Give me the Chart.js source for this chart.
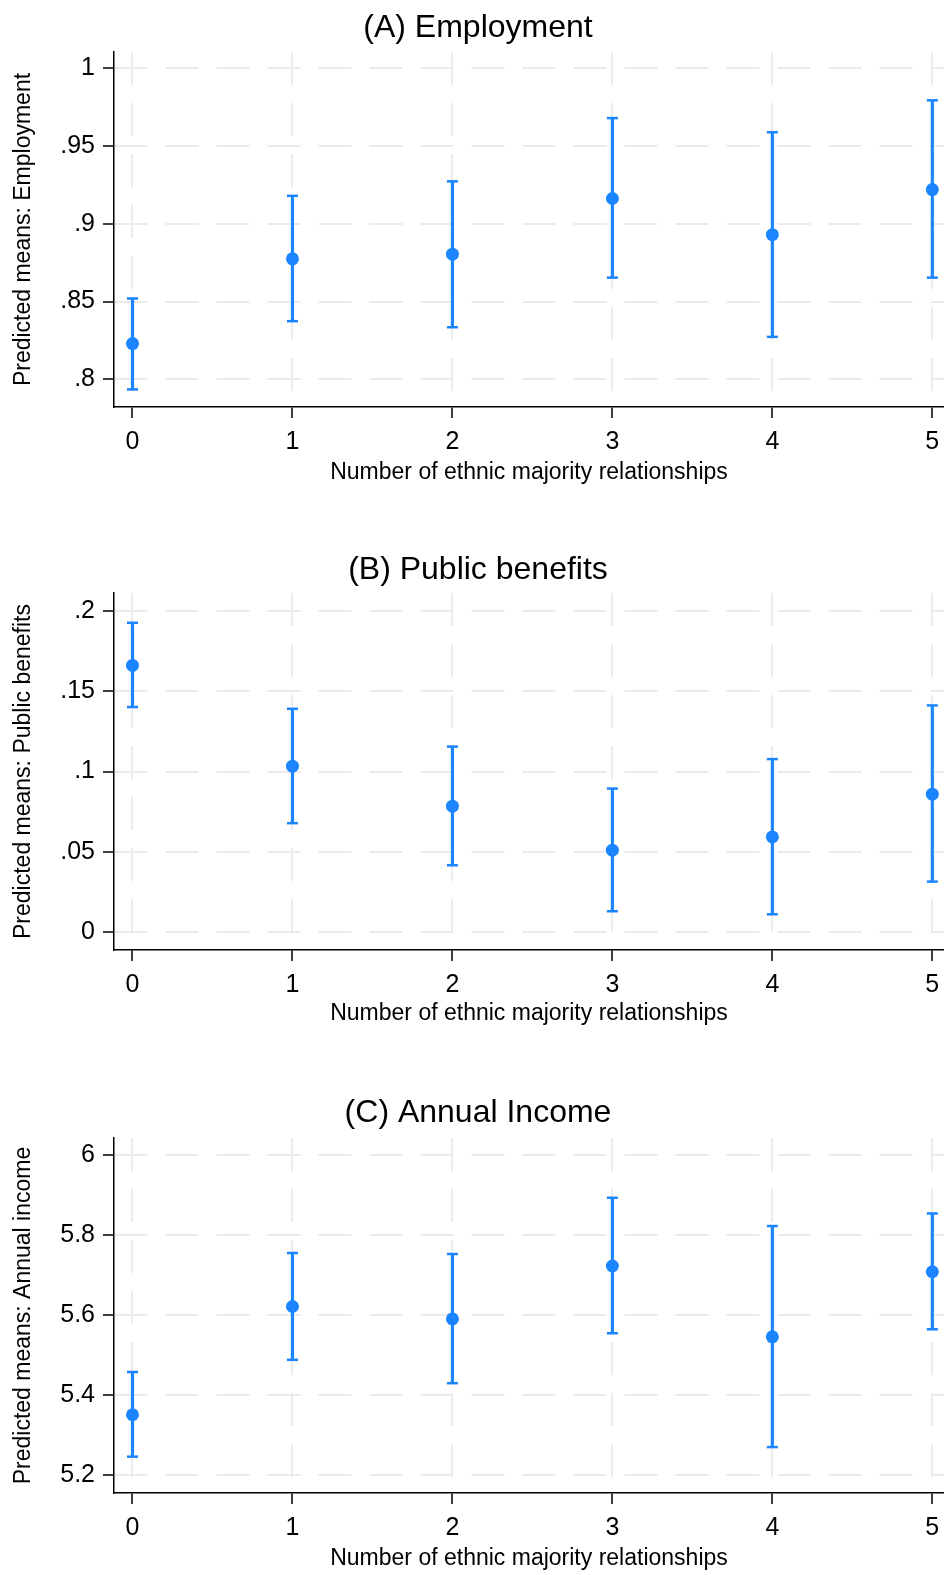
<!DOCTYPE html>
<html><head><meta charset="utf-8">
<script src="https://cdn.jsdelivr.net/npm/chart.js@4/dist/chart.umd.min.js"></script>
<style>
html,body{margin:0;padding:0;background:#fff;overflow:hidden;width:944px;height:1575px;}
.p{position:absolute;left:0;width:944px;height:500px;}
</style></head><body>
<div class="p" style="top:0px"><canvas id="cA" width="944" height="500"></canvas></div>
<div class="p" style="top:541px"><canvas id="cB" width="944" height="500"></canvas></div>
<div class="p" style="top:1086px"><canvas id="cC" width="944" height="500"></canvas></div>
<script>
// ---- data ----
const relationships = [0, 1, 2, 3, 4, 5];
const xTickLabels = ['0', '1', '2', '3', '4', '5'];

const employmentMean = [0.823, 0.8775, 0.8805, 0.9163, 0.893, 0.922];
const employmentLow  = [0.7935, 0.8374, 0.8335, 0.8654, 0.8273, 0.8654];
const employmentHigh = [0.852, 0.918, 0.9273, 0.968, 0.9589, 0.9794];
const employmentTicks = [0.8, 0.85, 0.9, 0.95, 1];
const employmentTickLabels = ['.8', '.85', '.9', '.95', '1'];

const benefitsMean = [0.1663, 0.1034, 0.0784, 0.0509, 0.0592, 0.0859];
const benefitsLow  = [0.1403, 0.0678, 0.0415, 0.0128, 0.0109, 0.0313];
const benefitsHigh = [0.1929, 0.1392, 0.1156, 0.0894, 0.1078, 0.1413];
const benefitsTicks = [0, 0.05, 0.1, 0.15, 0.2];
const benefitsTickLabels = ['0', '.05', '.1', '.15', '.2'];

const incomeMean = [5.35, 5.621, 5.59, 5.7225, 5.545, 5.708];
const incomeLow  = [5.245, 5.4875, 5.429, 5.554, 5.269, 5.564];
const incomeHigh = [5.457, 5.755, 5.7525, 5.8933, 5.8225, 5.854];
const incomeTicks = [5.2, 5.4, 5.6, 5.8, 6];
const incomeTickLabels = ['5.2', '5.4', '5.6', '5.8', '6'];

const titles = ['(A) Employment', '(B) Public benefits', '(C) Annual Income'];
const yTitles = ['Predicted means: Employment', 'Predicted means: Public benefits', 'Predicted means: Annual income'];
const xTitle = 'Number of ethnic majority relationships';

// ---- rendering ----
const BLUE = '#1a85ff';
const GRID = '#ebebeb';
Chart.defaults.font.family = "'Liberation Sans', Arial, sans-serif";
Chart.defaults.color = '#000';

function makeChart(id, mean, low, high, yTicks, yLabels, yMin, yMax, title, yTitle, titlePadTop, xAxisHeight) {
  const pts = relationships.map((x, i) => ({x: x, y: mean[i]}));
  const caps = relationships.map((x, i) => ({x: x, y: low[i]}))
    .concat(relationships.map((x, i) => ({x: x, y: high[i]})));
  const bars = relationships.map((x, i) => ({x: x, y: [low[i], high[i]]}));
  return new Chart(document.getElementById(id), {
    type: 'scatter',
    data: {
      datasets: [
        {type: 'scatter', data: pts, pointRadius: 6.5, pointHoverRadius: 6.5,
          pointBackgroundColor: BLUE, pointBorderWidth: 0, pointStyle: 'circle', clip: false},
        {type: 'scatter', data: caps, pointStyle: 'line', pointRadius: 5.5, pointHoverRadius: 5.5,
          pointBorderColor: BLUE, pointBorderWidth: 2.5, clip: false},
        {type: 'bar', data: bars, backgroundColor: BLUE, barThickness: 2.5, borderWidth: 0, grouped: false}
      ]
    },
    options: {
      responsive: false, animation: false, events: [],
      layout: {padding: {left: 12, right: 0, top: 0, bottom: 0}, autoPadding: false},
      plugins: {
        legend: {display: false}, tooltip: {enabled: false},
        title: {display: true, text: title, color: '#000',
          font: {size: 32, weight: 'normal', lineHeight: 1.2},
          padding: {top: titlePadTop, bottom: 52 - titlePadTop - 38.4}}
      },
      scales: {
        x: {
          type: 'linear', min: -0.1156, max: 5.073, offset: false,
          afterBuildTicks: s => { s.ticks = relationships.map(v => ({value: v})); },
          afterFit: s => { s.height = xAxisHeight; s.paddingRight = 0; s.paddingLeft = 0; },
          ticks: {font: {size: 25}, color: '#000', padding: 9, maxRotation: 0,
            callback: (v, i) => xTickLabels[i]},
          grid: {offset: false, color: GRID, lineWidth: 2, tickColor: '#000', tickWidth: 1.5, tickLength: 11, tickBorderDash: []},
          border: {display: true, color: '#000', width: 1.5, dash: [33, 18]},
          title: {display: true, text: xTitle, color: '#000', font: {size: 23, lineHeight: 1.2},
            padding: {top: 0, bottom: 14}}
        },
        y: {
          type: 'linear', min: yMin, max: yMax, offset: false,
          afterBuildTicks: s => { s.ticks = yTicks.map(v => ({value: v})); },
          afterFit: s => { s.width = 102; },
          ticks: {font: {size: 25}, color: '#000', padding: 8,
            callback: (v, i) => yLabels[i]},
          grid: {offset: false, color: GRID, lineWidth: 2, tickColor: '#000', tickWidth: 1.5, tickLength: 11, tickBorderDash: []},
          border: {display: true, color: '#000', width: 1.5, dash: [33, 18]},
          title: {display: true, text: yTitle, color: '#000', font: {size: 23, lineHeight: 1},
            padding: {top: 0.5, bottom: 0}}
        }
      }
    }
  });
}

makeChart('cA', employmentMean, employmentLow, employmentHigh, employmentTicks, employmentTickLabels,
  0.7822, 1.0105, titles[0], yTitles[0], 8.5, 93);
makeChart('cB', benefitsMean, benefitsLow, benefitsHigh, benefitsTicks, benefitsTickLabels,
  -0.0114, 0.2115, titles[1], yTitles[1], 10, 91);
makeChart('cC', incomeMean, incomeLow, incomeHigh, incomeTicks, incomeTickLabels,
  5.154, 6.043, titles[2], yTitles[2], 8, 93);
</script>
</body></html>
